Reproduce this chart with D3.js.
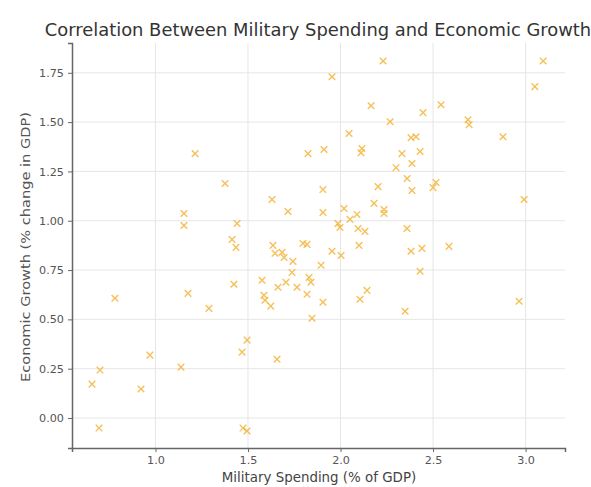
<!DOCTYPE html>
<html><head><meta charset="utf-8">
<script src="https://cdn.jsdelivr.net/npm/d3@7"></script>
<style>body{margin:0;background:#fff}svg{display:block;font-family:"DejaVu Sans",sans-serif}</style>
</head><body><svg id="c" width="591" height="487"></svg>
<script>
const spending = [2.23,1.954,3.095,3.05,2.165,2.543,2.446,2.268,2.689,2.695,2.878,2.046,2.381,2.408,2.116,2.111,1.911,1.824,1.214,2.332,2.43,2.30,2.386,2.36,2.386,2.516,2.50,2.203,1.905,1.376,1.716,1.63,2.992,2.181,2.019,1.905,2.235,2.235,2.089,2.051,1.154,1.154,1.441,1.986,1.997,2.095,2.132,2.359,1.414,1.435,1.635,1.646,1.684,1.695,1.797,1.819,1.954,2.003,2.10,2.381,2.44,2.586,1.743,1.895,1.738,2.43,1.576,1.662,1.705,1.765,1.83,1.84,1.819,1.424,1.176,1.586,1.592,1.623,2.143,2.105,1.905,2.965,0.781,1.846,1.289,2.349,1.495,1.468,1.657,0.97,0.70,0.657,0.922,1.138,0.695,1.473,1.495];
const growth = [1.81,1.73,1.81,1.68,1.583,1.588,1.548,1.502,1.512,1.487,1.426,1.442,1.421,1.426,1.366,1.345,1.361,1.34,1.34,1.34,1.351,1.269,1.29,1.214,1.153,1.194,1.168,1.173,1.158,1.189,1.047,1.108,1.108,1.088,1.062,1.042,1.057,1.037,1.032,1.007,1.037,0.976,0.986,0.986,0.966,0.961,0.946,0.961,0.905,0.865,0.875,0.835,0.84,0.814,0.885,0.88,0.845,0.824,0.875,0.845,0.86,0.87,0.794,0.774,0.738,0.744,0.698,0.663,0.688,0.663,0.713,0.688,0.627,0.678,0.632,0.622,0.597,0.567,0.647,0.602,0.587,0.592,0.607,0.506,0.556,0.541,0.395,0.334,0.298,0.319,0.243,0.172,0.147,0.258,-0.051,-0.051,-0.066];
const xTicks = [1.0,1.5,2.0,2.5,3.0];
const yTicks = [0,0.25,0.5,0.75,1.0,1.25,1.5,1.75];

const svg = d3.select("#c");
const L=72,R=565,T=43,B=448;
const x = d3.scaleLinear().domain([0.549,3.213]).range([L,R]);
const y = d3.scaleLinear().domain([-0.152,1.901]).range([B,T]);

// grid
svg.append("g").selectAll("line").data(xTicks).join("line")
  .attr("x1",d=>x(d)).attr("x2",d=>x(d)).attr("y1",T).attr("y2",B)
  .attr("stroke","#e6e6e6").attr("stroke-width",1);
svg.append("g").selectAll("line").data(yTicks).join("line")
  .attr("y1",d=>y(d)).attr("y2",d=>y(d)).attr("x1",L).attr("x2",R)
  .attr("stroke","#e6e6e6").attr("stroke-width",1);

// axes
const xa = svg.append("g").attr("transform",`translate(0,${B})`)
  .call(d3.axisBottom(x).tickValues(xTicks).tickFormat(d3.format(".1f")).tickSizeOuter(0).tickSize(4).tickPadding(4));
const ya = svg.append("g").attr("transform",`translate(${L},0)`)
  .call(d3.axisLeft(y).tickValues(yTicks).tickFormat(d3.format(".2f")).tickSizeOuter(0).tickSize(4).tickPadding(4));
[xa,ya].forEach(a=>{
  a.select(".domain").attr("stroke","#666").attr("stroke-width",1.5);
  a.selectAll(".tick line").attr("stroke","#666");
  a.selectAll(".tick text").attr("fill","#555").style("font-size","11.2px").style("font-family","DejaVu Sans");
});

// points
const pts = spending.map((s,i)=>({s,g:growth[i]}));
const r=3.3;
svg.append("g").selectAll("path").data(pts).join("path")
  .attr("d",d=>{const cx=x(d.s),cy=y(d.g);return `M${cx-r},${cy-r}L${cx+r},${cy+r}M${cx-r},${cy+r}L${cx+r},${cy-r}`;})
  .attr("stroke","#f4b030").attr("stroke-opacity",0.8).attr("stroke-width",1.4).attr("fill","none");

// labels
svg.append("text").attr("x",318).attr("y",36).attr("text-anchor","middle")
  .attr("fill","#333").style("font-size","17.9px").text("Correlation Between Military Spending and Economic Growth");
svg.append("text").attr("x",319).attr("y",482).attr("text-anchor","middle")
  .attr("fill","#444").style("font-size","13.4px").text("Military Spending (% of GDP)");
svg.append("text").attr("transform",`translate(30,247) rotate(-90)`).attr("text-anchor","middle")
  .attr("fill","#555").style("font-size","12.6px").attr("textLength",270).attr("lengthAdjust","spacingAndGlyphs")
  .text("Economic Growth (% change in GDP)");
</script></body></html>
